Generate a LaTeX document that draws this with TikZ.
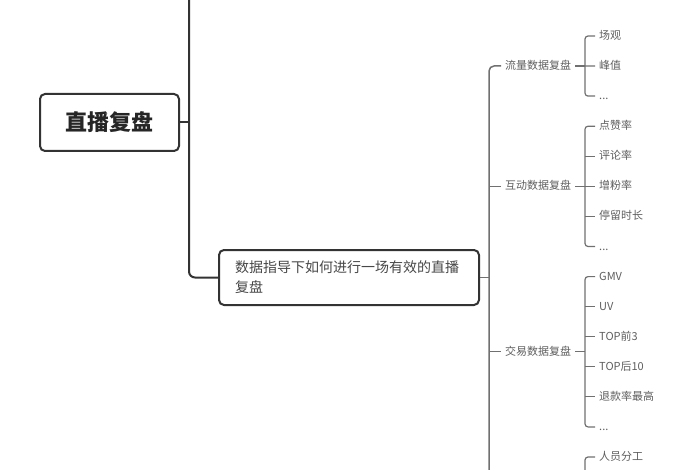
\documentclass[tikz,border=0pt]{standalone}
\usepackage{fontspec}
\setmainfont{Noto Sans CJK SC}
\usetikzlibrary{positioning}
\usetikzlibrary{calc}
\definecolor{darkline}{HTML}{333333}
\definecolor{greyline}{HTML}{707070}
\definecolor{greytext}{HTML}{5E5E5E}

\begin{document}
\begin{tikzpicture}[x=1pt, y=-1pt,
			rootnode/.style={rectangle, rounded corners=5pt, draw=darkline, line width=2pt, fill=white, minimum width=139pt, minimum height=57pt, font=\fontsize{22}{26}\selectfont\bfseries, text=black!85},
			topicnode/.style={rectangle, rounded corners=5pt, draw=darkline, line width=2pt, fill=white, text width=228pt, align=left, inner xsep=16pt, minimum height=55pt, font=\fontsize{14}{20}\selectfont, text=black!72},
			subnode/.style={anchor=west, inner xsep=4pt, inner ysep=1pt, text height=9pt, text depth=2pt, font=\fontsize{11}{13}\selectfont, text=greytext},
			leafnode/.style={anchor=west, inner xsep=4pt, inner ysep=1pt, text height=9pt, text depth=2pt, font=\fontsize{11}{13}\selectfont, text=greytext},
			trunkline/.style={draw=darkline, line width=2pt, rounded corners=6pt},
			branchline/.style={draw=greyline, line width=1.5pt, rounded corners=5pt},
			leafline/.style={draw=greyline, line width=1.2pt, rounded corners=3pt},
			]
			\useasboundingbox (0,0) rectangle (700,470);
			%Nodes
			\node[rootnode] (root) at (109.5,122.5) {直播复盘};
			\node[topicnode] (topic) at (349,277.5) {数据指导下如何进行一场有效的直播\\复盘};
			
			\node[subnode] (flow) at (501,66) {流量数据复盘};
			\node[subnode] (interact) at (501,186.4) {互动数据复盘};
			\node[subnode] (trade) at (501,351.7) {交易数据复盘};
			
			\node[leafnode] (views) at (595,36) {场观};
			\node[leafnode] (peak) at (595,66.1) {峰值};
			\node[leafnode] (flowmore) at (595,96.1) {...};
			
			\node[leafnode] (likes) at (595,126.2) {点赞率};
			\node[leafnode] (comments) at (595,156.3) {评论率};
			\node[leafnode] (fans) at (595,186.4) {增粉率};
			\node[leafnode] (stay) at (595,216.4) {停留时长};
			\node[leafnode] (interactmore) at (595,246.5) {...};
			
			\node[leafnode] (gmv) at (595,276.6) {GMV};
			\node[leafnode] (uv) at (595,306.6) {UV};
			\node[leafnode] (topthree) at (595,336.7) {TOP前3};
			\node[leafnode] (lastten) at (595,366.8) {TOP后10};
			\node[leafnode] (refund) at (595,396.8) {退款率最高};
			\node[leafnode] (trademore) at (595,426.9) {...};
			
			\node[leafnode] (staff) at (595,457) {人员分工};
			
			%Joints
			\coordinate (trunktop) at (189,-5);
			\coordinate (trunkjoin) at (189,122.5);
			\coordinate (spine) at (489,277.5);
			\coordinate (spinebottom) at (489,475);
			\coordinate (flowbr) at (585,66);
			\coordinate (interactbr) at (585,186.4);
			\coordinate (tradebr) at (585,351.7);
			\coordinate (staffbr) at (585,480);
			
			%Lines
			\draw[trunkline] (root.east) -- (trunkjoin);
			\draw[trunkline] (trunktop) |- (topic.west);
			
			\draw[branchline] (topic.east) -- (spine);
			\draw[branchline] (spinebottom) |- (flow.west);
			\draw[branchline] (spine |- interact.west) -- (interact.west);
			\draw[branchline] (spine |- trade.west) -- (trade.west);
			
			\draw[leafline] (flow.east) -- (flowbr);
			\draw[leafline] (views.west) -| (flowbr) |- (flowmore.west);
			\draw[leafline] (flowbr) -- (peak.west);
			
			\draw[leafline] (interact.east) -- (interactbr);
			\draw[leafline] (likes.west) -| (interactbr) |- (interactmore.west);
			\draw[leafline] (interactbr |- comments.west) -- (comments.west);
			\draw[leafline] (interactbr) -- (fans.west);
			\draw[leafline] (interactbr |- stay.west) -- (stay.west);
			
			\draw[leafline] (trade.east) -- (tradebr);
			\draw[leafline] (gmv.west) -| (tradebr) |- (trademore.west);
			\draw[leafline] (tradebr |- uv.west) -- (uv.west);
			\draw[leafline] (tradebr |- topthree.west) -- (topthree.west);
			\draw[leafline] (tradebr |- lastten.west) -- (lastten.west);
			\draw[leafline] (tradebr |- refund.west) -- (refund.west);
			
			\draw[leafline] (staff.west) -| (staffbr);
		\end{tikzpicture}
\end{document}
